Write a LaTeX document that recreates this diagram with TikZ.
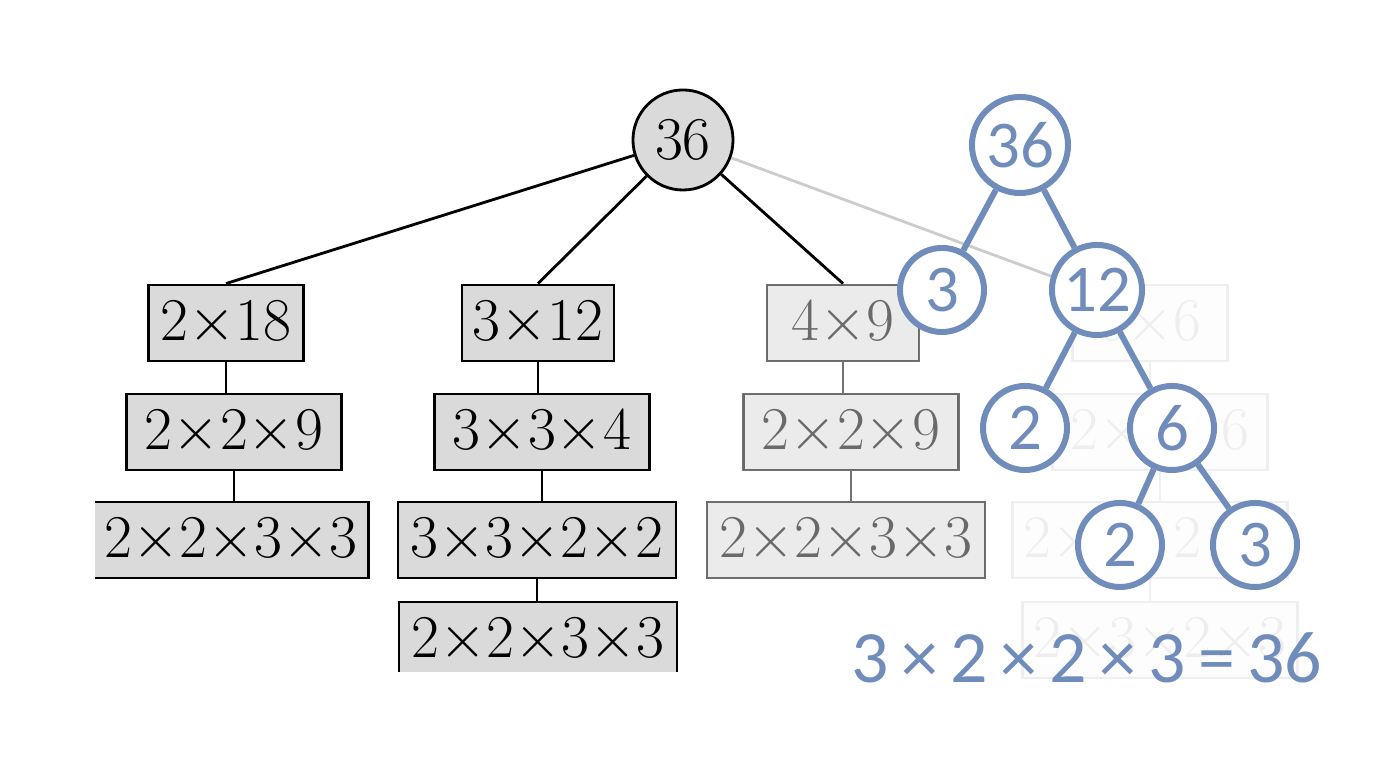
\documentclass[tikz,border=0pt]{standalone}
\usepackage{amsmath}
\usepackage{fontspec}
\newfontfamily\blfont{Carlito}
\usepackage{tikz}
\definecolor{treeblue}{RGB}{112,140,186}
\definecolor{boxgray}{RGB}{218,218,218}
\newcommand{\tx}{{\times}}
\begin{document}
\begin{tikzpicture}[x=0.01cm,y=-0.01cm]
        \useasboundingbox (0,0) rectangle (1384,768);
        \begin{scope}[every node/.style={draw,thick,fill=boxgray,minimum height=0.76cm,inner sep=1,font=\fontsize{16}{18}\selectfont}]
                % faded fourth column
                \begin{scope}[opacity=0.06]
                        \node[minimum width=1.55cm] (F1) at (1150,323) {\(6\tx6\)};
                        \node[minimum width=2.15cm] (F2) at (1160,432) {\(2\tx3\tx6\)};
                        \node[minimum width=2.75cm] (F3) at (1150,540) {\(2\tx3\tx2\tx3\)};
                        \node[minimum width=2.75cm] (F4) at (1160,640) {\(2\tx3\tx2\tx3\)};
                \end{scope}
                \node[circle,minimum size=1.0cm] (R) at (683,140) {\(36\)};
                \node[minimum width=1.55cm] (A1) at (226,323) {\(2\tx18\)};
                \node[minimum width=2.15cm] (A2) at (234,432) {\(2\tx2\tx9\)};
                \node[minimum width=2.75cm] (A3) at (231,540) {\(2\tx2\tx3\tx3\)};
                \node[minimum width=1.52cm] (B1) at (538,323) {\(3\tx12\)};
                \node[minimum width=2.15cm] (B2) at (542,432) {\(3\tx3\tx4\)};
                \node[minimum width=2.78cm] (B3) at (537,540) {\(3\tx3\tx2\tx2\)};
                \node[minimum width=2.78cm] (B4) at (538,640) {\(2\tx2\tx3\tx3\)};
                \begin{scope}[opacity=0.55]
                        \node[minimum width=1.52cm] (C1) at (843,323) {\(4\tx9\)};
                        \node[minimum width=2.15cm] (C2) at (851,432) {\(2\tx2\tx9\)};
                        \node[minimum width=2.78cm] (C3) at (846,540) {\(2\tx2\tx3\tx3\)};
                \end{scope}
        \end{scope}
        % cut edges of the scanned picture
        \fill[white] (0,490) rectangle (95,600);
        \fill[white] (380,672) rectangle (700,720);
        \begin{scope}[every path/.style={thick}]
                \draw (R) -- (A1.north);
                \draw (R) -- (B1.north);
                \draw (R) -- (C1.north);
                \draw[opacity=0.2] (R) -- (F1.north west);
                \draw (A1) -- (A1 |- A2.north);
                \draw (A2) -- (A2 |- A3.north);
                \draw (B1) -- (B1 |- B2.north);
                \draw (B2) -- (B2 |- B3.north);
                \draw (B3) -- (B3 |- B4.north);
                \draw[opacity=0.55] (C1) -- (C1 |- C2.north);
                \draw[opacity=0.55] (C2) -- (C2 |- C3.north);
                \draw[opacity=0.06] (F1) -- (F1 |- F2.north);
                \draw[opacity=0.06] (F2) -- (F2 |- F3.north);
                \draw[opacity=0.06] (F3) -- (F3 |- F4.north);
        \end{scope}
        \begin{scope}[every node/.style={circle,draw=treeblue,line width=1.7pt,fill=white,text=treeblue,minimum size=0.84cm,inner sep=0,font=\blfont\fontsize{19}{22}\selectfont}]
                \node[minimum size=0.96cm] (N36) at (1020,145) {36};
                \node (N3) at (942,290) {3};
                \node[minimum size=0.9cm] (N12) at (1097,290) {12};
                \node (N2) at (1025,428) {2};
                \node (N6) at (1172,428) {6};
                \node (N2b) at (1120,545) {2};
                \node (N3b) at (1255,545) {3};
        \end{scope}
        \begin{scope}[every path/.style={treeblue,line width=1.7pt}]
                \draw (N36) -- (N3);
                \draw (N36) -- (N12);
                \draw (N12) -- (N2);
                \draw (N12) -- (N6);
                \draw (N6) -- (N2b);
                \draw (N6) -- (N3b);
        \end{scope}
        \node[text=treeblue,font=\blfont\fontsize{21}{24}\selectfont] (Eq) at (1087,658) {3\,×\,2\,×\,2\,×\,3\,=\,36};
\end{tikzpicture}
\end{document}
